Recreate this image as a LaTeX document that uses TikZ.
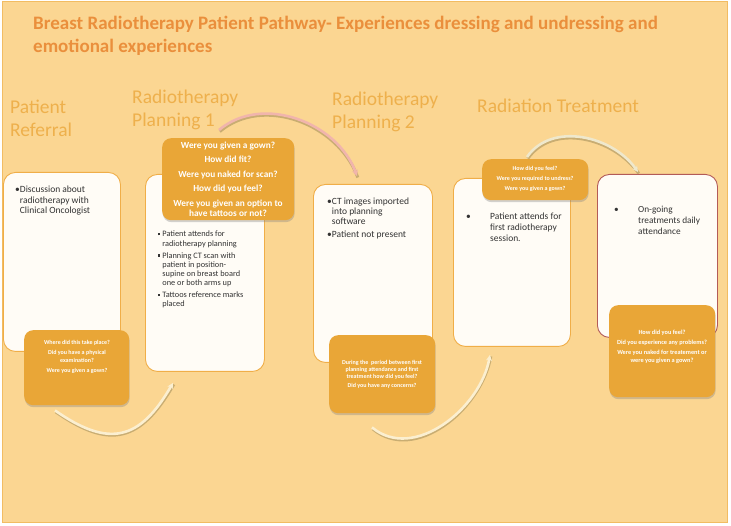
\documentclass[tikz,border=0pt]{standalone}
\usepackage{fontspec}
\setmainfont{Carlito}
\usetikzlibrary{arrows.meta,shadows}

\definecolor{bgfill}{HTML}{FBD692}
\definecolor{bgline}{HTML}{F2BC62}
\definecolor{titlecol}{HTML}{EA8F3C}
\definecolor{headcol}{HTML}{EEB04C}
\definecolor{cardfill}{HTML}{FFFCF6}
\definecolor{cardline}{HTML}{F0AE48}
\definecolor{lastline}{HTML}{B35B58}
\definecolor{askfill}{HTML}{E9A637}
\definecolor{bodycol}{HTML}{333333}
\definecolor{creamarc}{HTML}{FBEFD0}
\definecolor{pinkarc}{HTML}{F1B5AC}
\definecolor{palearc}{HTML}{EFE8CC}
\definecolor{arcshade}{HTML}{A8935E}

\begin{document}
\begin{tikzpicture}[x=1pt, y=1pt,
  card/.style={draw=cardline, fill=cardfill, line width=0.9pt, rounded corners=12pt, anchor=north west, inner sep=0pt},
  ask/.style={fill=askfill, rounded corners=9pt, anchor=north west, inner sep=0pt, drop shadow={shadow xshift=0.5pt, shadow yshift=-2pt, opacity=0.35}},
  asktext/.style={anchor=base, inner sep=0pt, text=white, font=\bfseries\fontsize{6}{7.8}\selectfont},
  head/.style={anchor=north west, inner sep=0pt, align=left, text=headcol, font=\fontsize{19.5}{23}\selectfont},
  body/.style={anchor=base west, inner sep=0pt, text=bodycol, font=\fontsize{9.5}{10.5}\selectfont},
  curvearrow/.style={line width=2.6pt, draw=creamarc, -{Stealth[length=6pt,width=6pt]}},
  curveshade/.style={line width=3pt, draw=arcshade, opacity=0.6, transform canvas={shift={(0.8,-1.5)}}}]
\useasboundingbox (0,0) rectangle (731,-526);

%fundo
\draw[bgline, fill=bgfill, line width=1pt] (2,-2) rectangle (727,-522);

%titulo
\node[anchor=north west, inner sep=0pt, align=left, text=titlecol, font=\bfseries\fontsize{19}{23}\selectfont] (title) at (33,-16)
  {Breast Radiotherapy Patient Pathway- Experiences dressing and undressing and\\emotional experiences};

%fases
\node[head] (hrefer) at (10,-100) {Patient\\Referral};
\node[head] (hplan1) at (132,-90) {Radiotherapy\\Planning 1};
\node[head] (hplan2) at (332,-92) {Radiotherapy\\Planning 2};
\node[head] (htreat) at (477,-99) {Radiation Treatment};

%caixas brancas
\node[card, minimum width=117pt, minimum height=179pt] (refbox) at (3,-172) {};
\node[card, minimum width=119pt, minimum height=197pt] (planbox) at (145,-174) {};
\node[card, minimum width=119pt, minimum height=178pt] (ctbox) at (313,-184) {};
\node[card, minimum width=117pt, minimum height=168pt] (firstbox) at (453,-178) {};
\node[card, draw=lastline, minimum width=120pt, minimum height=163pt] (dailybox) at (597,-174) {};

%textos das caixas
\node[body] (reftext) at (15,-193) {\begin{tabular}[t]{@{}l@{}l@{}}\textbullet&Discussion about\\&radiotherapy with\\&Clinical Oncologist\end{tabular}};
\node[body, font=\fontsize{8.3}{9.2}\selectfont] (plantext) at (158,-237) {\begin{tabular}[t]{@{}l@{\hspace{2pt}}l@{}}
  \rule[1.6pt]{2.2pt}{2.2pt}&Patient attends for\\&radiotherapy planning\\[2.8pt]
  \rule[1.6pt]{2.2pt}{2.2pt}&Planning CT scan with\\&patient in position-\\&supine on breast board\\&one or both arms up\\[2.8pt]
  \rule[1.6pt]{2.2pt}{2.2pt}&Tattoos reference marks\\&placed\end{tabular}};
\node[body, font=\fontsize{9.5}{9.6}\selectfont] (cttext) at (327,-205) {\begin{tabular}[t]{@{}l@{}l@{}}
  \textbullet&CT images imported\\&into planning\\&software\\[3.5pt]
  \textbullet&Patient not present\end{tabular}};
\node[body, font=\fontsize{9.5}{11}\selectfont] (firsttext) at (466,-220) {\begin{tabular}[t]{@{}p{24pt}@{}l@{}}
  \textbullet&Patient attends for\\&first radiotherapy\\&session.\end{tabular}};
\node[body, font=\fontsize{9.3}{11}\selectfont] (dailytext) at (614,-213) {\begin{tabular}[t]{@{}p{24pt}@{}l@{}}
  \textbullet&On-going\\&treatments daily\\&attendance\end{tabular}};

%caixas de perguntas
\node[ask, minimum width=105pt, minimum height=75pt] (qrefer) at (24,-330) {};
\node[ask, minimum width=132pt, minimum height=82pt] (qplan) at (162,-138) {};
\node[ask, minimum width=106pt, minimum height=78pt] (qct) at (329,-335) {};
\node[ask, minimum width=106pt, minimum height=41pt] (qfirst) at (482,-159) {};
\node[ask, minimum width=106pt, minimum height=92pt] (qdaily) at (609,-305) {};

\node[asktext] (trefer) at (77,-345) {\begin{tabular}[t]{@{}c@{}}Where did this take place?\\[2.2pt]
  Did you have a physical\\examination?\\[2.2pt]Were you given a gown?\end{tabular}};
\node[asktext, font=\bfseries\fontsize{9.3}{10.3}\selectfont] (tplan) at (228,-148.5) {\begin{tabular}[t]{@{}c@{}}
  Were you given a gown?\\[4.2pt]How did fit?\\[4.2pt]Were you naked for scan?\\[4.2pt]How did you feel?\\[4.2pt]
  Were you given an option to\\have tattoos or not?\end{tabular}};
\node[asktext, font=\bfseries\fontsize{6}{6.6}\selectfont] (tct) at (382,-365) {\begin{tabular}[t]{@{}c@{}}
  During the\ \ period between first\\planning attendance and first\\treatment how did you feel?\\[2.6pt]
  Did you have any concerns?\end{tabular}};
\node[asktext, font=\bfseries\fontsize{6}{10}\selectfont] (tfirst) at (535,-171) {\begin{tabular}[t]{@{}c@{}}
  How did you feel?\\Were you required to undress?\\Were you given a gown?\end{tabular}};
\node[asktext, font=\bfseries\fontsize{6.3}{7.3}\selectfont] (tdaily) at (662,-335) {\begin{tabular}[t]{@{}c@{}}
  How did you feel?\\[2.7pt]Did you experience any problems?\\[2.7pt]
  Were you naked for treatement or\\were you given a gown?\end{tabular}};

%setas curvas
\draw[curveshade] ([shift={(31,-5)}]qrefer.south west) to[out=-35,in=-120,looseness=1.4] ([shift={(28,-11)}]planbox.south west);
\draw[curvearrow] ([shift={(31,-5)}]qrefer.south west) to[out=-35,in=-120,looseness=1.4] ([shift={(28,-11)}]planbox.south west);

\draw[curveshade] ([shift={(57,8)}]qplan.north west) to[out=40,in=110] ([shift={(44,8)}]ctbox.north west);
\draw[curvearrow, draw=pinkarc] ([shift={(57,8)}]qplan.north west) to[out=40,in=110] ([shift={(44,8)}]ctbox.north west);

\draw[curveshade] ([shift={(43,-14)}]qct.south west) to[out=-40,in=-100] ([shift={(37,-8)}]firstbox.south west);
\draw[curvearrow] ([shift={(43,-14)}]qct.south west) to[out=-40,in=-100] ([shift={(37,-8)}]firstbox.south west);

\draw[curveshade] ([shift={(45,2)}]qfirst.north west) to[out=55,in=125] ([shift={(41,2)}]dailybox.north west);
\draw[curvearrow, draw=palearc] ([shift={(45,2)}]qfirst.north west) to[out=55,in=125] ([shift={(41,2)}]dailybox.north west);

\end{tikzpicture}
\end{document}
